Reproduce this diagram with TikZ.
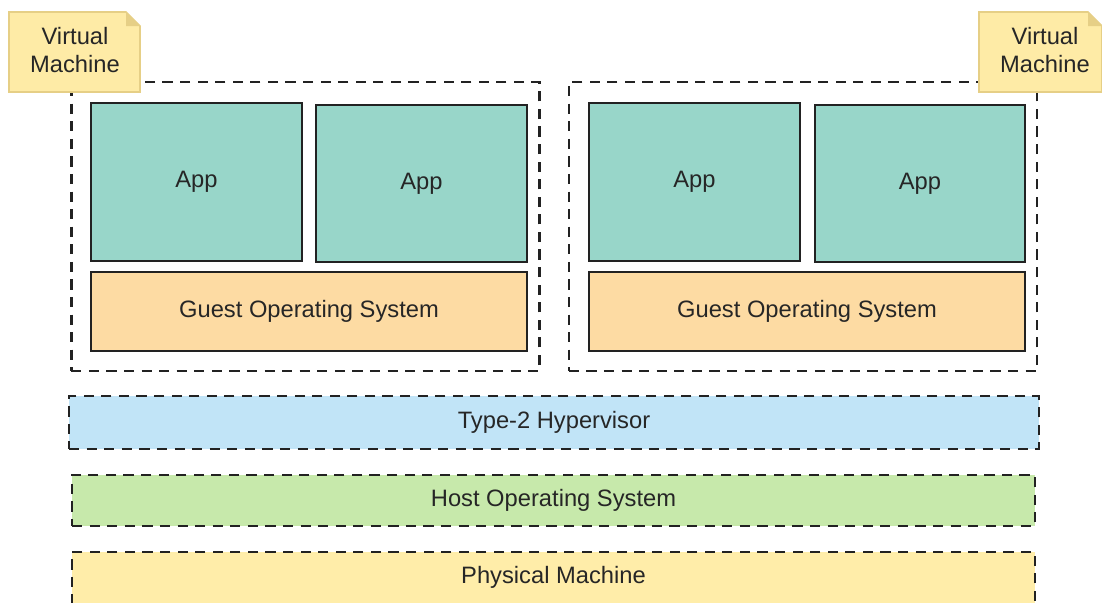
\documentclass[tikz,border=0pt]{standalone}
\usepackage{fontspec}
\setmainfont{Liberation Sans}
\usetikzlibrary{positioning}
\definecolor{appteal}{HTML}{98D6C9}
\definecolor{guestorange}{HTML}{FDDBA3}
\definecolor{hyperblue}{HTML}{C1E4F7}
\definecolor{hostgreen}{HTML}{C7E9AB}
\definecolor{physyellow}{HTML}{FFEDA9}
\definecolor{noteyellow}{HTML}{FEEBA6}
\definecolor{noteedge}{HTML}{E6CF86}
\definecolor{boxedge}{HTML}{222222}

\begin{document}
\begin{tikzpicture}[
    x=0.02cm, y=-0.02cm,
    every node/.style={font=\fontsize{13.5}{16}\selectfont, text=black!85},
    solidbox/.style={draw=boxedge, line width=1.1pt, inner sep=0pt},
    app/.style={solidbox, fill=appteal, minimum width=4.22cm, minimum height=3.16cm},
    guest/.style={solidbox, fill=guestorange, minimum width=8.72cm, minimum height=1.58cm},
    layer/.style={draw=boxedge, line width=1.4pt, dash pattern=on 5.8pt off 4.2pt, inner sep=0pt},
    vmframe/.style={layer, minimum width=9.37cm, minimum height=5.78cm},
    note/.style={fill=noteyellow, draw=noteedge, line width=0.9pt},
]
\useasboundingbox (0,0) rectangle (1102,602);
\clip (0,0) rectangle (1102,602);

% --- Virtual machine frames (dashed) ---
\node[vmframe] (vmleft)  at (305.5,226.5) {};
\node[vmframe] (vmright) at (803,226.5) {};

% --- Apps and guest OS, left VM ---
\node[app] (appa) at (196.5,182) {App};
\node[app, minimum height=3.14cm] (appb) at (421.5,183.5) {App};
\node[guest] (guesta) at (309,311.5) {Guest Operating System};

% --- Apps and guest OS, right VM ---
\node[app] (appc) at (694.5,182) {App};
\node[app, minimum width=4.2cm, minimum height=3.14cm] (appd) at (920,183.5) {App};
\node[guest] (guestb) at (807,311.5) {Guest Operating System};

% --- Layers under the VMs ---
\node[layer, fill=hyperblue, minimum width=19.4cm, minimum height=1.06cm]
     (hyper) at (554,422.5) {Type-2 Hypervisor};
\node[layer, fill=hostgreen, minimum width=19.26cm, minimum height=1.02cm]
     (hostos) at (553.5,500.5) {Host Operating System};
% bottom edge runs off the page
\node[layer, fill=physyellow, minimum width=19.26cm, minimum height=1.4cm]
     (phys) at (553.5,587) {};
\node (physlabel) at (553.5,577) {Physical Machine};

% --- Note tags (folded corner) ---
\draw[note] (9,12) -- (126,12) -- (140,26) -- (140,92) -- (9,92) -- cycle;
\fill[noteedge] (126,12) -- (140,26) -- (126,26) -- cycle;
\node[align=center] (notea) at (75,50) {Virtual\\Machine};

\draw[note] (979,12) -- (1088,12) -- (1102,26) -- (1102,92) -- (979,92) -- cycle;
\fill[noteedge] (1088,12) -- (1102,26) -- (1088,26) -- cycle;
\node[align=center] (noteb) at (1045,50) {Virtual\\Machine};

\end{tikzpicture}
\end{document}
